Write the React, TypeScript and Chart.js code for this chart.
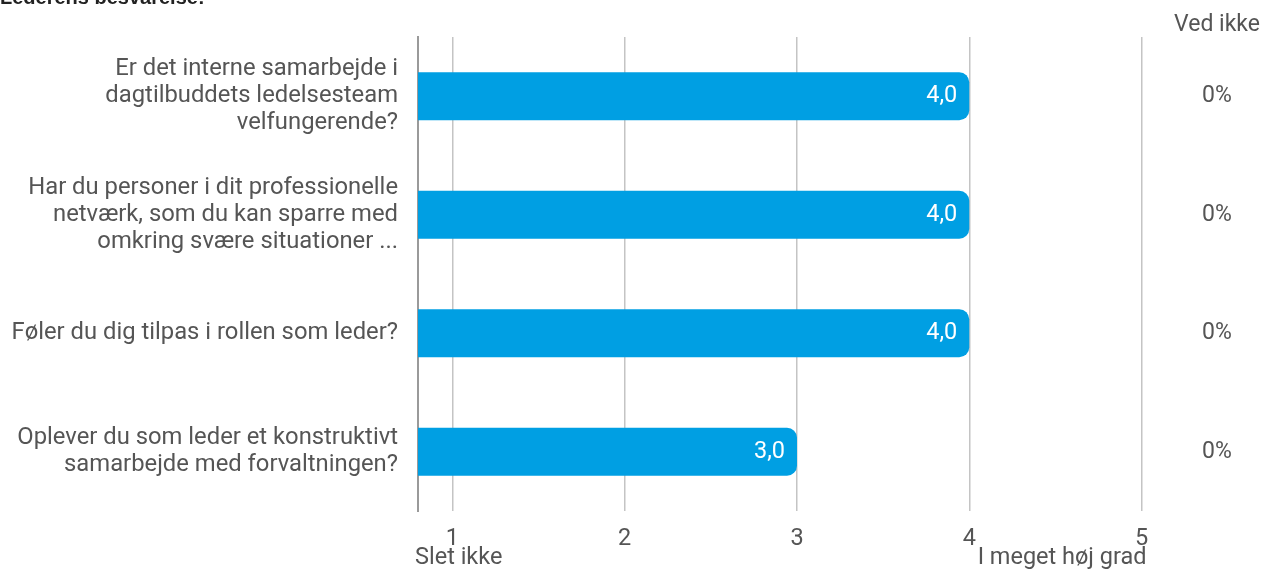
import React, { useEffect, useRef } from "react";
import { Chart, registerables } from "chart.js";

Chart.register(...registerables);

const title = "Lederens besvarelse:";
const categories: string[][] = [
  ["Er det interne samarbejde i", "dagtilbuddets ledelsesteam", "velfungerende?"],
  ["Har du personer i dit professionelle", "netværk, som du kan sparre med", "omkring svære situationer ..."],
  ["Føler du dig tilpas i rollen som leder?"],
  ["Oplever du som leder et konstruktivt", "samarbejde med forvaltningen?"],
];
const values: number[] = [4.0, 4.0, 4.0, 3.0];
const vedIkkeHeader = "Ved ikke";
const vedIkke: number[] = [0, 0, 0, 0];
const tickValues: number[] = [1, 2, 3, 4, 5];
const lowLabel = "Slet ikke";
const highLabel = "I meget høj grad";

const FONT = "Roboto";
const TEXT = "#555555";
const BAR = "#009FE3";

const fmt = (v: number) => v.toFixed(1).replace(".", ",");

export default function App() {
  const ref = useRef<HTMLCanvasElement | null>(null);
  useEffect(() => {
    if (!ref.current) return;
    const overlay = {
      id: "overlay",
      afterDatasetsDraw(chart: any) {
        const ctx = chart.ctx;
        const meta = chart.getDatasetMeta(0);
        const xs = chart.scales.x;
        ctx.save();
        // value labels
        ctx.font = `23.5px ${FONT}`;
        ctx.textBaseline = "middle";
        ctx.textAlign = "right";
        ctx.fillStyle = "#ffffff";
        meta.data.forEach((bar: any, i: number) => {
          ctx.fillText(fmt(values[i]), bar.x - 12, bar.y);
        });
        // right column
        const colX = 1217;
        ctx.fillStyle = TEXT;
        ctx.textAlign = "center";
        ctx.font = `23px ${FONT}`;
        ctx.fillText(vedIkkeHeader, colX, 25);
        meta.data.forEach((bar: any, i: number) => {
          ctx.fillText(`${vedIkke[i]}%`, colX, bar.y);
        });
        // extremes
        ctx.font = `23.5px ${FONT}`;
        ctx.textAlign = "left";
        ctx.fillText(lowLabel, xs.left - 3, 558);
        ctx.textAlign = "right";
        ctx.fillText(highLabel, xs.getPixelForValue(tickValues[tickValues.length - 1]) + 5, 558);
        // title
        ctx.font = `bold 20px "Liberation Sans", Arial, sans-serif`;
        ctx.textAlign = "left";
        ctx.textBaseline = "alphabetic";
        ctx.fillStyle = "#222222";
        ctx.fillText(title, 0, 4);
        ctx.restore();
      },
    };
    const chart = new Chart(ref.current, {
      type: "bar",
      data: {
        labels: categories,
        datasets: [
          {
            data: values,
            backgroundColor: BAR,
            borderRadius: { topRight: 10, bottomRight: 10, topLeft: 0, bottomLeft: 0 },
            borderSkipped: "start",
            categoryPercentage: 1,
            barPercentage: 0.405,
          },
        ],
      },
      options: {
        indexAxis: "y",
        animation: false,
        responsive: true,
        maintainAspectRatio: false,
        layout: { padding: { top: 37, right: 87, left: 0, bottom: 0 } },
        plugins: { legend: { display: false }, tooltip: { enabled: false } },
        scales: {
          x: {
            min: 0.8,
            max: 5.2,
            afterBuildTicks: (scale: any) => {
              scale.ticks = tickValues.map((v) => ({ value: v }));
            },
            afterFit: (scale: any) => {
              scale.height = 60;
              scale.paddingLeft = 0;
              scale.paddingRight = 0;
            },
            grid: { color: "#c4c4c4", lineWidth: 1.5, drawTicks: false },
            border: { display: false },
            ticks: {
              color: TEXT,
              font: { family: FONT, size: 23.5 },
              padding: 14,
              maxRotation: 0,
              autoSkip: false,
            },
          },
          y: {
            grid: { display: false, drawTicks: false },
            border: { display: true, color: "#9a9a9a", width: 2 },
            afterFit: (scale: any) => {
              scale.width = 418;
              scale.paddingTop = 0;
              scale.paddingBottom = 0;
            },
            ticks: {
              color: TEXT,
              font: { family: FONT, size: 23.8, lineHeight: 1.14 },
              padding: 20,
              autoSkip: false,
            },
          },
        },
      },
      plugins: [overlay],
    } as any);
    return () => chart.destroy();
  }, []);
  return (
    <div style={{ position: "fixed", left: 0, top: 0, width: 1263, height: 571, background: "#fff" }}>
      <canvas ref={ref} />
    </div>
  );
}
